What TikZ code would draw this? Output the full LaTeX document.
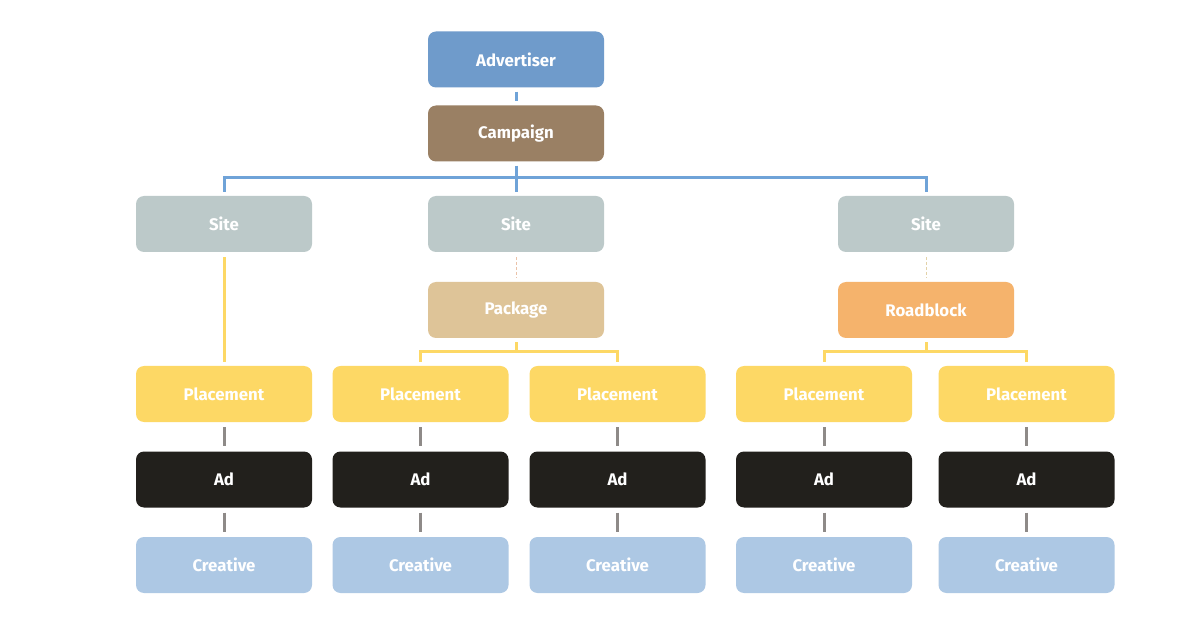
\documentclass[tikz,border=0pt]{standalone}
\usepackage{fontspec}
\setmainfont{Fira Sans}
\definecolor{advblue}{HTML}{6F9BCB}
\definecolor{campbrown}{HTML}{9A8064}
\definecolor{sitegrey}{HTML}{BCC9C9}
\definecolor{packtan}{HTML}{DEC498}
\definecolor{roadorange}{HTML}{F5B36C}
\definecolor{placeyellow}{HTML}{FDD865}
\definecolor{adblack}{HTML}{22201C}
\definecolor{creablue}{HTML}{ADC8E4}
\definecolor{linkblue}{HTML}{6FA3D8}
\definecolor{linkgrey}{HTML}{8E8A88}
\definecolor{dashpink}{HTML}{EBC2A8}
\definecolor{dashtan}{HTML}{E3D2A8}
\tikzset{
  box/.style={rounded corners=8pt, minimum width=176pt, minimum height=56pt,
    text=white, font=\bfseries\fontsize{16.8}{20}\selectfont, inner sep=0pt},
  bluelink/.style={draw=linkblue, line width=3pt},
  yellowlink/.style={draw=placeyellow, line width=3pt},
  greylink/.style={draw=linkgrey, line width=3pt, shorten <=5pt, shorten >=5pt},
  dashlink/.style={line width=1pt, dashed, dash pattern=on 3pt off 2pt, shorten <=5pt, shorten >=4pt}
}
\begin{document}
\begin{tikzpicture}[x=1pt,y=-1pt]
\useasboundingbox[fill=white] (0,0) rectangle (1200,628);
% top of the tree
\node[box, fill=advblue] (adv) at (516,59.5) {Advertiser};
\node[box, fill=campbrown] (camp) at (516,133.5) {Campaign};
% sites
\node[box, fill=sitegrey] (site1) at (224,224) {Site};
\node[box, fill=sitegrey] (site2) at (516,224) {Site};
\node[box, fill=sitegrey] (site3) at (926,224) {Site};
\node[box, fill=packtan] (pack) at (516,310) {Package};
\node[box, fill=roadorange] (road) at (926,310) {Roadblock};
% placements, ads, creatives
\foreach \i/\x in {1/224, 2/420.5, 3/617.5, 4/824, 5/1026.5} {
  \node[box, fill=placeyellow] (place\i) at (\x,394) {Placement};
  \node[box, fill=adblack] (ad\i) at (\x,479.5) {Ad};
  \node[box, fill=creablue] (crea\i) at (\x,565) {Creative};
  \draw[greylink] (place\i) -- (ad\i);
  \draw[greylink] (ad\i) -- (crea\i);
}
\coordinate (bus) at (516,178);
\coordinate (packbus) at (516,352);
\coordinate (roadbus) at (926,352);
\draw[bluelink, shorten <=4pt, shorten >=4pt] (adv) -- (camp);
\draw[bluelink, shorten <=4pt, shorten >=4pt] (camp) -- (site2);
\draw[bluelink, shorten <=4pt, shorten >=4pt] (site1.north) |- (bus) -| (site3.north);
\draw[yellowlink, shorten <=5pt, shorten >=4pt] (site1) -- (place1);
\draw[dashlink, draw=dashpink] (site2) -- (pack);
\draw[dashlink, draw=dashtan] (site3) -- (road);
\draw[yellowlink, shorten <=4pt] (pack) -- (packbus);
\draw[yellowlink, shorten <=4pt, shorten >=4pt] (place2.north) |- (packbus) -| (place3.north);
\draw[yellowlink, shorten <=4pt] (road) -- (roadbus);
\draw[yellowlink, shorten <=4pt, shorten >=4pt] (place4.north) |- (roadbus) -| (place5.north);
\end{tikzpicture}
\end{document}
